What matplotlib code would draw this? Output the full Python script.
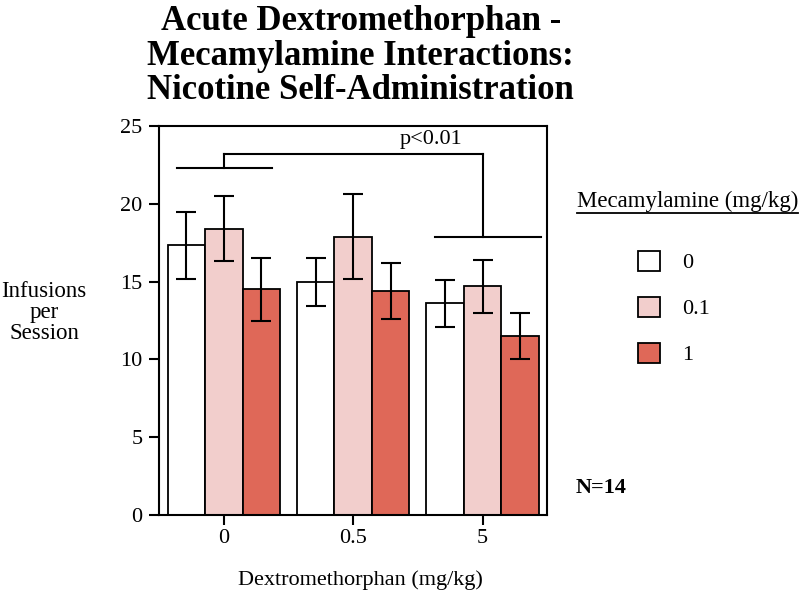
import numpy as np
import matplotlib
matplotlib.use("Agg")
import matplotlib.pyplot as plt
from matplotlib.lines import Line2D

plt.rcParams["font.family"] = ["Liberation Serif", "DejaVu Serif"]

# Dextromethorphan dose groups (x) and mecamylamine doses (series)
dxm_doses = ["0", "0.5", "5"]
mec_doses = ["0", "0.1", "1"]

# mean infusions per session, one list per mecamylamine dose
means_mec0 = [17.35, 15.0, 13.6]
means_mec01 = [18.4, 17.9, 14.7]
means_mec1 = [14.5, 14.4, 11.5]

# SEM
sem_mec0 = [2.15, 1.55, 1.5]
sem_mec01 = [2.1, 2.75, 1.7]
sem_mec1 = [2.05, 1.8, 1.5]

colors = ["white", "#f2cecc", "#df6858"]

fig = plt.figure(figsize=(8, 5.95), dpi=100)
ax = fig.add_axes([0.199, 0.1345, 0.485, 0.6535])

x = np.arange(len(dxm_doses))
w = 0.29
series = [(means_mec0, sem_mec0), (means_mec01, sem_mec01), (means_mec1, sem_mec1)]
handles = []
for i, (m, s) in enumerate(series):
    pos = x + (i - 1) * w
    b = ax.bar(pos, m, width=w, color=colors[i], edgecolor="black", linewidth=1.3, zorder=2)
    ax.errorbar(pos, m, yerr=s, fmt="none", ecolor="black", elinewidth=1.5,
                capsize=7, capthick=1.5, zorder=3)
    handles.append(b)

ax.set_xlim(-0.5, 2.5)
ax.set_ylim(0, 25)
ax.set_yticks([0, 5, 10, 15, 20, 25])
ax.set_xticks(x)
ax.set_xticklabels(dxm_doses)
ax.tick_params(axis="both", direction="out", length=7, width=1.5, labelsize=16, pad=5)
ax.tick_params(axis="x", pad=3)
for sp in ax.spines.values():
    sp.set_linewidth(1.5)

# significance bracket
kw = dict(color="black", lw=1.5, clip_on=False, zorder=4)
ax.plot([-0.36, 0.37], [22.3, 22.3], **kw)
ax.plot([0, 0], [22.3, 23.2], **kw)
ax.plot([0, 2.0], [23.2, 23.2], **kw)
ax.plot([2.0, 2.0], [23.2, 17.9], **kw)
ax.plot([1.63, 2.45], [17.9, 17.9], **kw)
ax.text(1.6, 23.5, "p<0.01", ha="center", va="bottom", fontsize=16)

fig.text(0.451, 0.992, "Acute Dextromethorphan -\nMecamylamine Interactions:\nNicotine Self-Administration",
         ha="center", va="top", fontsize=25, fontweight="bold", linespacing=1.07)

fig.text(0.055, 0.474, "Infusions\nper\nSession", ha="center", va="center", fontsize=16.5, linespacing=1.0)
fig.text(0.45, 0.025, "Dextromethorphan (mg/kg)", ha="center", va="center", fontsize=16)

leg_title = fig.text(0.859, 0.662, "Mecamylamine (mg/kg)", ha="center", va="center", fontsize=16.5)
fig.text(0.719, 0.18, "N=14", ha="left", va="center", fontsize=16, fontweight="bold")

ax.legend(handles, mec_doses, loc="upper left", bbox_to_anchor=(0.772, 0.612),
          bbox_transform=fig.transFigure, frameon=False, fontsize=16,
          handlelength=1.0, handleheight=1.0, labelspacing=1.05, handletextpad=1.0)

# underline legend title
fig.canvas.draw()
bb = leg_title.get_window_extent().transformed(fig.transFigure.inverted())
fig.add_artist(Line2D([bb.x0, bb.x1], [bb.y0 - 0.002, bb.y0 - 0.002], color="black", lw=1.3,
                      transform=fig.transFigure))

fig.savefig("out.png", dpi=100)
